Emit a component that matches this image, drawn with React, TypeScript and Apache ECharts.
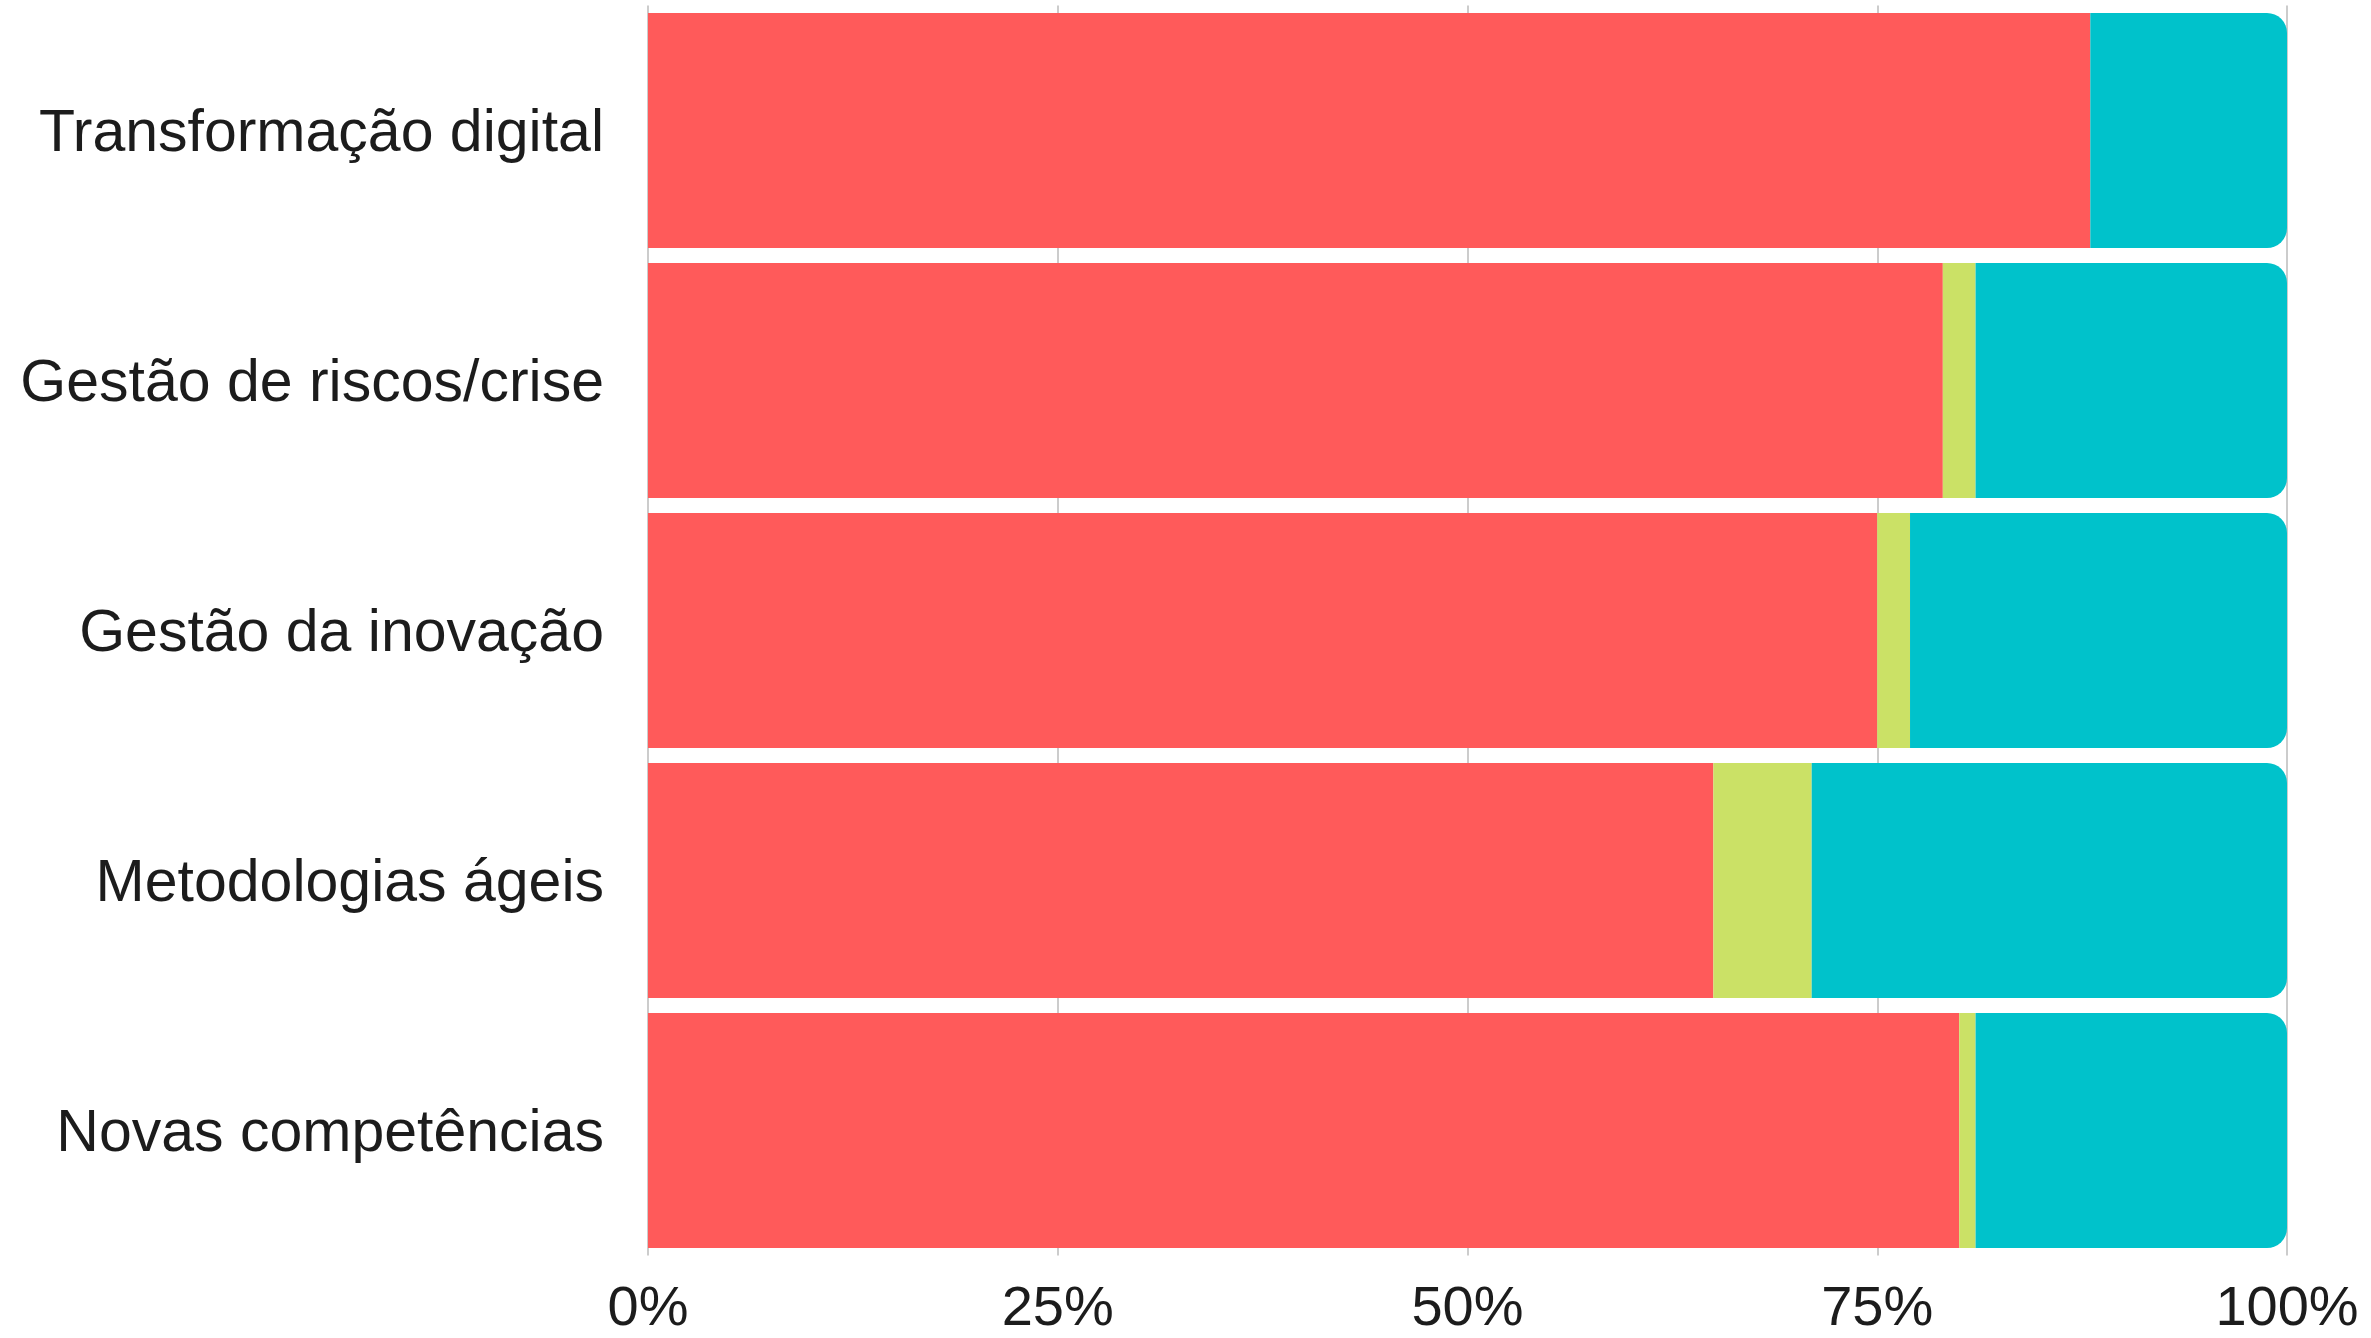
import React, { useEffect, useRef } from "react";
import * as echarts from "echarts";

const categories = [
  "Transformação digital",
  "Gestão de riscos/crise",
  "Gestão da inovação",
  "Metodologias ágeis",
  "Novas competências",
];
const redValues = [88, 79, 75, 65, 80];
const limeValues = [0, 2, 2, 6, 1];
const tealValues = [12, 19, 23, 29, 19];
const xTicks = [0, 25, 50, 75, 100];

export default function App() {
  const ref = useRef<HTMLDivElement>(null);
  useEffect(() => {
    if (!ref.current) return;
    const chart = echarts.init(ref.current, undefined, { renderer: "svg" });
    const font = "'Liberation Sans', Arial, sans-serif";
    chart.setOption({
      animation: false,
      backgroundColor: "#ffffff",
      grid: { left: 648, right: 84, top: 5.5, bottom: 82.5, containLabel: false },
      xAxis: {
        type: "value",
        min: xTicks[0],
        max: xTicks[xTicks.length - 1],
        interval: 25,
        axisLine: { show: false },
        axisTick: { show: false },
        splitLine: { show: true, lineStyle: { color: "#cccccc", width: 2 } },
        axisLabel: {
          formatter: "{value}%",
          fontSize: 56,
          lineHeight: 56,
          fontFamily: font,
          color: "#1c1c1c",
          margin: 22,
        },
      },
      yAxis: {
        type: "category",
        data: categories,
        inverse: true,
        axisLine: { show: false },
        axisTick: { show: false },
        splitLine: { show: false },
        axisLabel: {
          fontSize: 59,
          fontFamily: font,
          color: "#1c1c1c",
          margin: 44,
        },
      },
      series: [
        {
          type: "bar",
          stack: "total",
          data: redValues,
          barCategoryGap: "6%",
          itemStyle: { color: "#FF5A5A" },
        },
        {
          type: "bar",
          stack: "total",
          data: limeValues,
          itemStyle: { color: "#CBE166" },
        },
        {
          type: "bar",
          stack: "total",
          data: tealValues,
          itemStyle: { color: "#00C2CB", borderRadius: [0, 20, 20, 0] },
        },
      ],
    });
    return () => chart.dispose();
  }, []);
  return (
    <div
      ref={ref}
      style={{ position: "fixed", left: 0, top: 0, width: 2371, height: 1338 }}
    />
  );
}
